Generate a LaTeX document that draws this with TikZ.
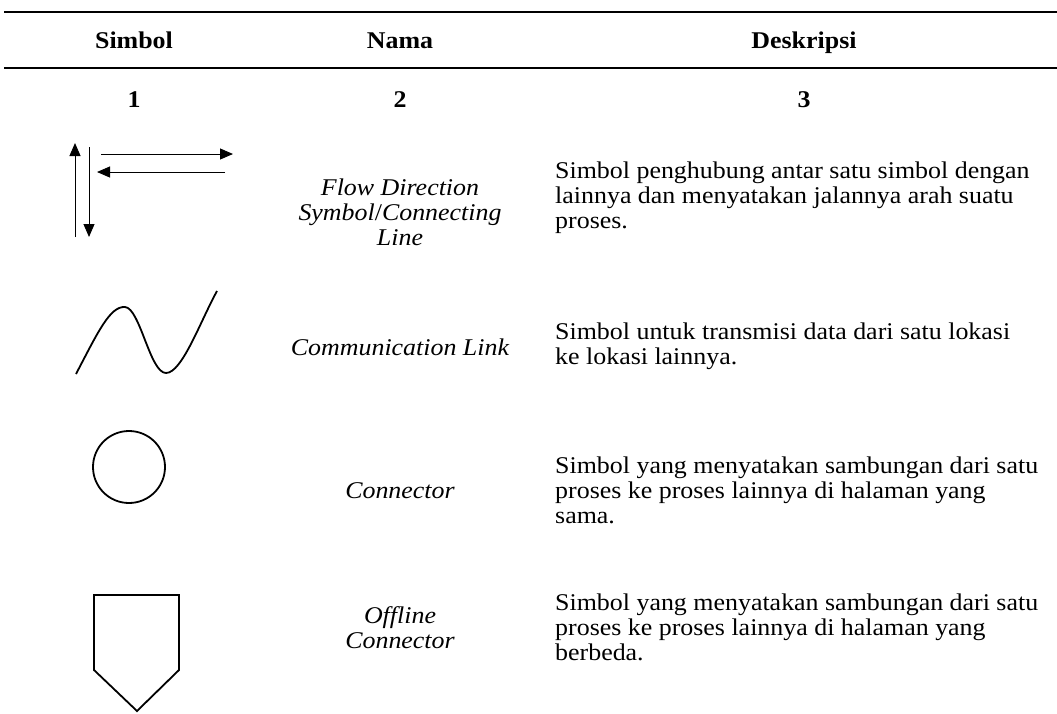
\documentclass[tikz,border=0pt]{standalone}
\usepackage{fontspec}
\setmainfont{Liberation Serif}[FakeStretch=1.08]
\usetikzlibrary{arrows.meta}

\begin{document}
\begin{tikzpicture}[
			x=1pt,y=-1pt,
			every node/.style={font=\fontsize{24}{25}\selectfont},
			head/.style={anchor=base,font=\fontsize{24}{25}\selectfont\bfseries},
			nama/.style={align=center,font=\fontsize{24}{25}\selectfont\itshape},
			desk/.style={align=left,anchor=west,inner sep=0pt},
			flow/.style={line width=1pt,-{Triangle[length=13pt,width=11pt]}},
			sym/.style={line width=1.8pt,line join=miter},
			]
			\useasboundingbox (0,0) rectangle (1057,713);
			\draw[line width=2.2pt] (4,12) -- (1057,12);
			\draw[line width=2.2pt] (4,68) -- (1057,68);
			\node [head] (hsimbol) at (134,48) {Simbol};
			\node [head] (hnama) at (400,48) {Nama};
			\node [head] (hdesk) at (804,48) {Deskripsi};
			\node [head] (n1) at (134,107) {1};
			\node [head] (n2) at (400,107) {2};
			\node [head] (n3) at (804,107) {3};
			% flow direction
			\coordinate (upA) at (75,237); \coordinate (upB) at (75,143);
			\coordinate (dnA) at (89,147); \coordinate (dnB) at (89,237);
			\coordinate (rtA) at (101,154); \coordinate (rtB) at (233,154);
			\coordinate (ltA) at (225,172); \coordinate (ltB) at (97,172);
			\draw[flow] (upA) -- (upB);
			\draw[flow] (dnA) -- (dnB);
			\draw[flow] (rtA) -- (rtB);
			\draw[flow] (ltA) -- (ltB);
			\node [nama] (flow) at (400,212) {Flow Direction\\ Symbol\textup{/}Connecting\\ Line};
			\node [desk] (dflow) at (555,198) {Simbol penghubung antar satu simbol dengan\\ lainnya dan menyatakan jalannya arah suatu\\ proses.};
			% communication link
			\draw[sym] (76,374) .. controls (98,332) and (110,306) .. (125,307)
				.. controls (140,308) and (150,373) .. (166,373)
				.. controls (182,373) and (200,322) .. (217,291);
			\node [nama] (comm) at (400,347) {Communication Link};
			\node [desk] (dcomm) at (555,346) {Simbol untuk transmisi data dari satu lokasi\\ ke lokasi lainnya.};
			% connector
			\draw[sym] (129,467) circle (36);
			\node [nama] (conn) at (400,491) {Connector};
			\node [desk] (dconn) at (555,490) {Simbol yang menyatakan sambungan dari satu\\ proses ke proses lainnya di halaman yang\\ sama.};
			% offline connector
			\draw[sym] (94,595) -- (179,595) -- (179,670) -- (137,711) -- (94,670) -- cycle;
			\node [nama] (off) at (400,628) {Offline\\ Connector};
			\node [desk] (doff) at (555,627) {Simbol yang menyatakan sambungan dari satu\\ proses ke proses lainnya di halaman yang\\ berbeda.};
		\end{tikzpicture}
\end{document}
